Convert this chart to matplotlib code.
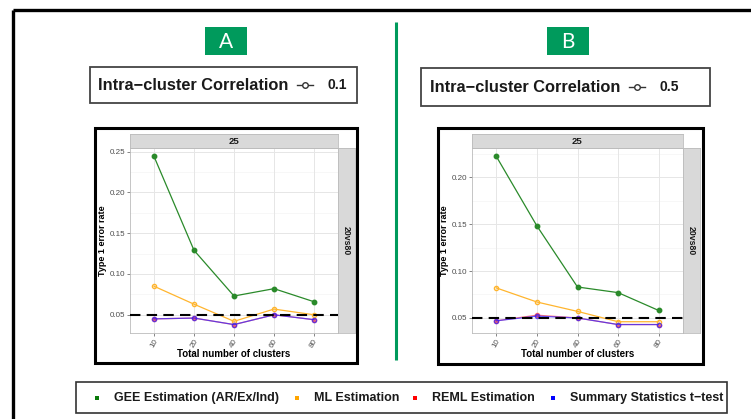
import matplotlib
matplotlib.use("Agg")
import matplotlib.pyplot as plt
from matplotlib.patches import Rectangle

W, H = 751, 419
plt.rcParams['font.family'] = ['Liberation Sans', 'DejaVu Sans']

# ---------------- data ----------------
clusters = ["10", "20", "40", "60", "80"]
gee_a = [0.244, 0.129, 0.073, 0.082, 0.066]
ml_a = [0.085, 0.063, 0.042, 0.057, 0.050]
reml_a = [0.045, 0.046, 0.038, 0.050, 0.044]
sst_a = [0.045, 0.046, 0.038, 0.050, 0.044]

gee_b = [0.222, 0.148, 0.083, 0.077, 0.058]
ml_b = [0.082, 0.067, 0.057, 0.046, 0.046]
reml_b = [0.047, 0.053, 0.050, 0.043, 0.043]
sst_b = [0.047, 0.052, 0.050, 0.043, 0.043]

yticks_a = [0.05, 0.10, 0.15, 0.20, 0.25]
yticks_b = [0.05, 0.10, 0.15, 0.20]
icc_values = ["0.1", "0.5"]
panel_letters = ["A", "B"]
legend_labels = ["GEE Estimation (AR/Ex/Ind)", "ML Estimation", "REML Estimation",
                 "Summary Statistics t\u2212test"]
nominal = 0.05

C_GEE = "#2a8a2a"
C_ML = "#ffb52e"
C_REML = "#ff2020"
C_SST = "#3322ff"
C_LEG = ["#0a7a0a", "#ffa500", "#ff0000", "#0000ff"]
GREEN = "#009a5c"

fig = plt.figure(figsize=(W / 100, H / 100), dpi=100)
bg = fig.add_axes([0, 0, 1, 1])
bg.set_xlim(0, W)
bg.set_ylim(H, 0)
bg.axis("off")


def pax(x0, y0, x1, y1):
    return fig.add_axes([x0 / W, 1 - y1 / H, (x1 - x0) / W, (y1 - y0) / H])


# outer frame
bg.plot([13, W + 5], [10, 10], color="black", lw=2.4, solid_capstyle="butt")
bg.plot([13, 13], [10, H + 5], color="black", lw=2.4, solid_capstyle="butt")
# divider
bg.plot([396, 396], [22, 360], color=GREEN, lw=2.2, solid_capstyle="butt")

# letter boxes
for (x0, letter) in zip([205, 547], panel_letters):
    bg.add_patch(Rectangle((x0, 27), 42, 28, facecolor=GREEN, edgecolor="none"))
    bg.text(x0 + 21, 42, letter, color="white", fontsize=15, ha="center", va="center",
            family=["Lato", "DejaVu Sans"])

# ICC legend boxes
for (x0, x1, y0, y1, val, tx) in [(90, 357, 67, 103, icc_values[0], 98),
                                   (421, 710, 68, 106, icc_values[1], 430)]:
    bg.add_patch(Rectangle((x0, y0), x1 - x0, y1 - y0, facecolor="white",
                           edgecolor="#444444", lw=1.3))
    yc = (y0 + y1) / 2
    t = bg.text(tx, yc, "Intra\u2212cluster Correlation", fontsize=11.8, fontweight="bold",
                ha="left", va="center", color="#1a1a1a")
    fig.canvas.draw()
    bb = t.get_window_extent()
    xe = bb.x1 + 9
    bg.plot([xe, xe + 16], [yc, yc], color="#333333", lw=1.0)
    bg.plot([xe + 8], [yc], marker="o", ms=4, mfc="white", mec="#333333", mew=1.0)
    bg.text(xe + 30, yc, val, fontsize=10, fontweight="bold", ha="left", va="center",
            color="#1a1a1a")


def panel(box, plot, rstrip, gee, ml, reml, sst, yticks, ylim):
    bx0, by0, bx1, by1 = box
    bg.add_patch(Rectangle((bx0, by0), bx1 - bx0, by1 - by0, facecolor="white",
                           edgecolor="black", lw=2.2))
    px0, py0, px1, py1 = plot
    ax = pax(px0, py0, px1, py1)
    x = list(range(len(clusters)))
    ax.plot(x, reml, color=C_REML, lw=0.9, marker="o", ms=3, mfc=C_REML, mec=C_REML,
            alpha=0.6, zorder=3)
    ax.plot(x, sst, color=C_SST, lw=0.9, marker="o", ms=3, mfc="none", mec=C_SST,
            alpha=0.75, zorder=4)
    ax.plot(x, ml, color=C_ML, lw=0.9, marker="o", ms=3, mfc="none", mec=C_ML, zorder=3)
    ax.plot(x, gee, color=C_GEE, lw=0.9, marker="o", ms=3.2, mfc=C_GEE, mec=C_GEE,
            zorder=3)
    ax.axhline(nominal, color="black", lw=1.5, ls=(0, (5, 3)), zorder=5)
    ax.set_xlim(-0.6, len(clusters) - 0.4)
    ax.set_ylim(*ylim)
    ax.set_xticks(x)
    ax.set_xticklabels(clusters, rotation=60, fontsize=5.8, color="#4d4d4d")
    ax.set_yticks(yticks)
    ax.set_yticklabels([f"{v:.2f}" for v in yticks], fontsize=5.8, color="#4d4d4d")
    minors = [(yticks[i] + yticks[i + 1]) / 2 for i in range(len(yticks) - 1)]
    minors = [yticks[0] - 0.025] + minors + [yticks[-1] + 0.025]
    for m in minors:
        ax.axhline(m, color="#f4f4f4", lw=0.5, zorder=0)
    ax.grid(True, color="#e6e6e6", lw=0.7, zorder=0)
    ax.set_axisbelow(True)
    ax.tick_params(length=2, width=0.5, color="#555555", pad=1.5)
    for s in ax.spines.values():
        s.set_color("#bbbbbb")
        s.set_linewidth(0.6)
    ax.set_xlabel("Total number of clusters", fontsize=7, fontweight="bold", labelpad=0)
    ax.set_ylabel("Type 1 error rate", fontsize=6.5, fontweight="bold", labelpad=2)
    # strips
    st = pax(px0, py0 - 14, px1, py0)
    st.set_facecolor("#d9d9d9")
    st.set_xticks([]); st.set_yticks([])
    for s in st.spines.values():
        s.set_color("#bbbbbb"); s.set_linewidth(0.6)
    st.text(0.5, 0.5, "25", transform=st.transAxes, ha="center", va="center",
            fontsize=6.8, fontweight="bold", color="#1a1a1a")
    sr = pax(px1, py0, rstrip, py1)
    sr.set_facecolor("#d9d9d9")
    sr.set_xticks([]); sr.set_yticks([])
    for s in sr.spines.values():
        s.set_color("#bbbbbb"); s.set_linewidth(0.6)
    sr.text(0.5, 0.5, "20vs80", transform=sr.transAxes, ha="center", va="center",
            rotation=270, fontsize=6.3, fontweight="bold", color="#1a1a1a")


panel((95, 128, 357, 363), (130, 148, 338, 333), 355, gee_a, ml_a, reml_a, sst_a,
      yticks_a, (0.0277, 0.2543))
panel((438, 128, 703, 364), (472, 148, 683, 333), 700, gee_b, ml_b, reml_b, sst_b,
      yticks_b, (0.034, 0.231))

# bottom legend
bg.add_patch(Rectangle((76, 382), 651, 31, facecolor="white", edgecolor="#333333", lw=1.2))
leg_x = [97, 297, 415, 553]
for xs, lab, c in zip(leg_x, legend_labels, C_LEG):
    bg.add_patch(Rectangle((xs - 2, 396), 4, 4, facecolor=c, edgecolor="none"))
    bg.text(xs + 17, 398, lab, fontsize=9, fontweight="bold", ha="left", va="center",
            color="#1a1a1a")

fig.savefig("out.png", dpi=100)
